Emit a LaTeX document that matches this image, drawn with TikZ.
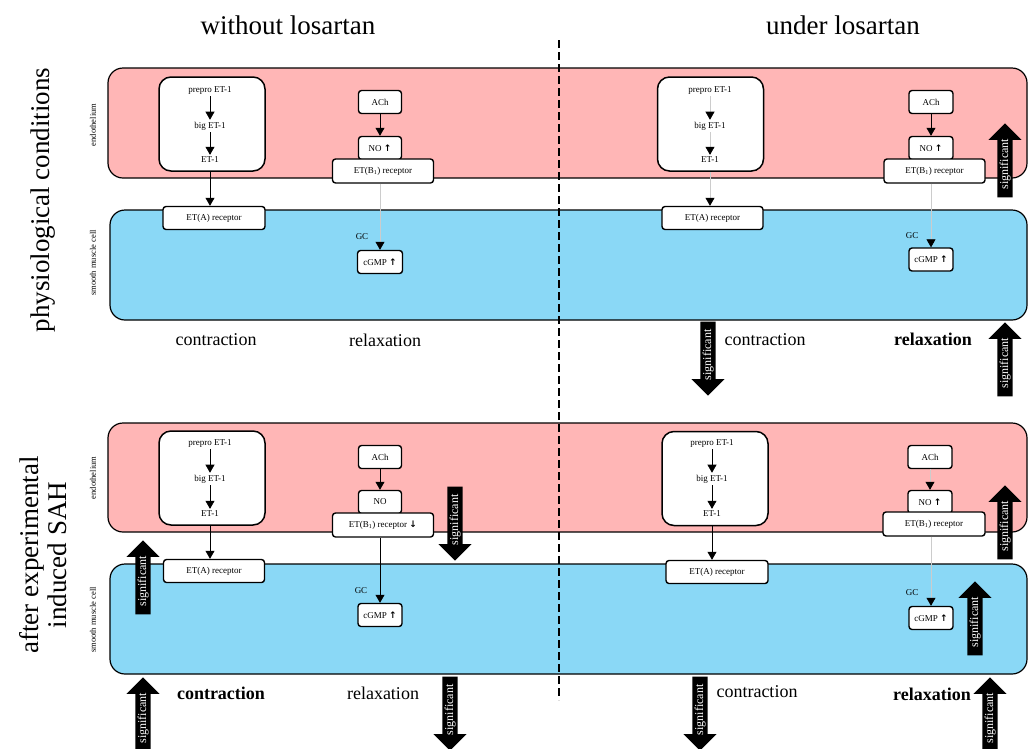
\documentclass[tikz,border=0pt]{standalone}
\usepackage{fontspec}
\setmainfont{Liberation Serif}
\newfontfamily\symfont{DejaVu Sans}
\usepackage{tikz}
\usetikzlibrary{arrows.meta,shapes.arrows}

\definecolor{endocol}{RGB}{255,182,182}
\definecolor{smccol}{RGB}{138,216,246}
\newcommand{\fs}[1]{\fontsize{#1}{#1}\selectfont}
\newcommand{\uarr}{{\symfont\bfseries ↑}}
\newcommand{\darr}{{\symfont\bfseries ↓}}

\tikzset{
  band/.style={draw, line width=1.2pt, rounded corners=15pt},
  chainbox/.style={draw, fill=white, line width=1.5pt, rounded corners=12pt, minimum width=106pt, minimum height=94pt},
  recbox/.style={draw, fill=white, line width=1.4pt, rounded corners=3pt, font=\fs{9}, inner sep=1pt, minimum height=23pt},
  chaintxt/.style={font=\fs{9}, inner sep=2pt},
  conn/.style={-{Triangle[width=9pt,length=8pt,black]}, line width=0.6pt},
  faint/.style={conn, draw=gray!40},
  sig/.style={single arrow, fill=black, text=white, font=\fs{12}, rotate=90, anchor=tip,
    minimum height=74pt, single arrow head extend=9pt, text height=8.5pt, text depth=2.5pt,
    inner ysep=2pt, inner xsep=1pt},
  sigdown/.style={sig, shape border rotate=180},
  outcome/.style={font=\fs{18}},
  heading/.style={font=\fs{27}},
  tissue/.style={font=\fs{8.5}, rotate=90},
}

\begin{document}
\begin{tikzpicture}[x=1pt, y=-1pt]
  \useasboundingbox (0,0) rectangle (1029,748);

  % headings
  \node[heading] (hwithout) at (288,25) {without losartan};
  \node[heading] (hunder) at (843,25) {under losartan};
  \node[heading, rotate=90] (hphys) at (43,200) {physiological conditions};
  \node[heading, rotate=90, align=center] (hsah) at (43,555) {after experimental\\[1pt]induced SAH};

  % cell layers
  \draw[band, fill=endocol] (108,68) rectangle (1027,178);
  \draw[band, fill=smccol] (110,210) rectangle (1027,320);
  \draw[band, fill=endocol] (108,423) rectangle (1027,532);
  \draw[band, fill=smccol] (110,564) rectangle (1027,674);
  \node[tissue] (tendo) at (93,125) {endothelium};
  \node[tissue] (tsmc) at (93,263) {smooth muscle cell};
  \node[tissue] (bendo) at (93,478) {endothelium};
  \node[tissue] (bsmc) at (93,620) {smooth muscle cell};
  \coordinate (divtop) at (559,40);
  \coordinate (divbot) at (559,700);
  \draw[line width=1.3pt, dash pattern=on 8pt off 4pt] (divtop) -- (divbot);

  % top left
  \node[chainbox] (tlbox) at (212,124) {};
  \node[chaintxt] (tlpre) at (210,90) {prepro ET-1};
  \node[chaintxt] (tlbig) at (210,126) {big ET-1};
  \node[chaintxt] (tlet) at (210,160) {ET-1};
  \node[recbox, minimum width=102pt] (tleta) at (214,218) {ET(A) receptor};
  \node[recbox, minimum width=43pt] (tlach) at (380,102) {ACh};
  \node[recbox, minimum width=43pt] (tlno) at (380,148) {NO \uarr};
  \node[recbox, minimum width=101pt, minimum height=24pt] (tletb) at (383,171) {ET(B\textsubscript{1}) receptor};
  \node[chaintxt] (tlgc) at (362,237) {GC};
  \node[recbox, minimum width=45pt] (tlcgmp) at (380,262) {cGMP \uarr};
  \draw[conn] (tlpre) -- (tlbig);
  \draw[conn] (tlbig) -- (tlet);
  \draw[conn] (tlet |- tlbox.south) -- (tlet |- tleta.north);
  \draw[conn] (tlach) -- (tlno);
  \draw[faint] (tletb.south -| tlcgmp) -- (tlcgmp);
  \node[outcome] (tlcon) at (216,340) {contraction};
  \node[outcome] (tlrel) at (385,340) {relaxation};

  % top right
  \node[chainbox] (trbox) at (710.5,124) {};
  \node[chaintxt] (trpre) at (710,90) {prepro ET-1};
  \node[chaintxt] (trbig) at (710,126) {big ET-1};
  \node[chaintxt] (tret) at (710,160) {ET-1};
  \node[recbox, minimum width=101pt] (treta) at (712.5,218) {ET(A) receptor};
  \node[recbox, minimum width=44pt] (trach) at (931,102) {ACh};
  \node[recbox, minimum width=44pt] (trno) at (931,148) {NO \uarr};
  \node[recbox, minimum width=101pt, minimum height=24pt] (tretb) at (934.5,171) {ET(B\textsubscript{1}) receptor};
  \node[chaintxt] (trgc) at (912,236) {GC};
  \node[recbox, minimum width=44pt] (trcgmp) at (931,259.5) {cGMP \uarr};
  \draw[faint] (trpre) -- (trbig);
  \draw[faint] (trbig) -- (tret);
  \draw[faint] (tret |- trbox.south) -- (tret |- treta.north);
  \draw[conn] (trach) -- (trno);
  \draw[faint] (tretb.south -| trcgmp) -- (trcgmp);
  \node[outcome] (trcon) at (765,340) {contraction};
  \node[outcome, font=\fs{18}\bfseries] (trrel) at (933,339) {relaxation};

  % bottom left
  \node[chainbox] (blbox) at (212,478) {};
  \node[chaintxt] (blpre) at (210,443) {prepro ET-1};
  \node[chaintxt] (blbig) at (210,479) {big ET-1};
  \node[chaintxt] (blet) at (210,514) {ET-1};
  \node[recbox, minimum width=101pt] (bleta) at (214,571) {ET(A) receptor};
  \node[recbox, minimum width=43pt] (blach) at (380,457) {ACh};
  \node[recbox, minimum width=43pt] (blno) at (380,502) {NO};
  \node[recbox, minimum width=101pt, minimum height=24pt] (bletb) at (383,525) {ET(B\textsubscript{1}) receptor \darr};
  \node[chaintxt] (blgc) at (361,591) {GC};
  \node[recbox, minimum width=44pt] (blcgmp) at (380,615) {cGMP \uarr};
  \draw[conn] (blpre) -- (blbig);
  \draw[conn] (blbig) -- (blet);
  \draw[conn] (blet |- blbox.south) -- (blet |- bleta.north);
  \draw[conn] (blach) -- (blno);
  \draw[conn] (bletb.south -| blcgmp) -- (blcgmp);
  \node[outcome, font=\fs{18}\bfseries] (blcon) at (221,693) {contraction};
  \node[outcome] (blrel) at (383,693) {relaxation};

  % bottom right
  \node[chainbox] (brbox) at (715,478.5) {};
  \node[chaintxt] (brpre) at (712,443) {prepro ET-1};
  \node[chaintxt] (brbig) at (712,479) {big ET-1};
  \node[chaintxt] (bret) at (712,514) {ET-1};
  \node[recbox, minimum width=102pt] (breta) at (717,572) {ET(A) receptor};
  \node[recbox, minimum width=44pt] (brach) at (930,457) {ACh};
  \node[recbox, minimum width=44pt] (brno) at (930,502) {NO \uarr};
  \node[recbox, minimum width=102pt, minimum height=24pt] (bretb) at (934,524) {ET(B\textsubscript{1}) receptor};
  \node[chaintxt] (brgc) at (912,593) {GC};
  \node[recbox, minimum width=44pt] (brcgmp) at (931,618) {cGMP \uarr};
  \draw[conn] (brpre) -- (brbig);
  \draw[conn] (brbig) -- (bret);
  \draw[conn] (bret |- brbox.south) -- (bret |- breta.north);
  \draw[faint] (brach) -- (brno);
  \draw[faint] (bretb.south -| brcgmp) -- (brcgmp);
  \node[outcome] (brcon) at (757,692) {contraction};
  \node[outcome, font=\fs{18}\bfseries] (brrel) at (932,694) {relaxation};

  % significant changes
  \node[sig] (s1) at (1005,123) {significant};
  \node[sigdown] (s2) at (708,396) {significant};
  \node[sig] (s3) at (1005,322) {significant};
  \node[sigdown] (s4) at (455,561) {significant};
  \node[sig] (s5) at (143,540) {significant};
  \node[sig] (s6) at (143,677) {significant};
  \node[sigdown] (s7) at (450,751) {significant};
  \node[sig] (s8) at (1005,485) {significant};
  \node[sig] (s9) at (975,581) {significant};
  \node[sigdown] (s10) at (700,751) {significant};
  \node[sig] (s11) at (990,677) {significant};
\end{tikzpicture}
\end{document}
